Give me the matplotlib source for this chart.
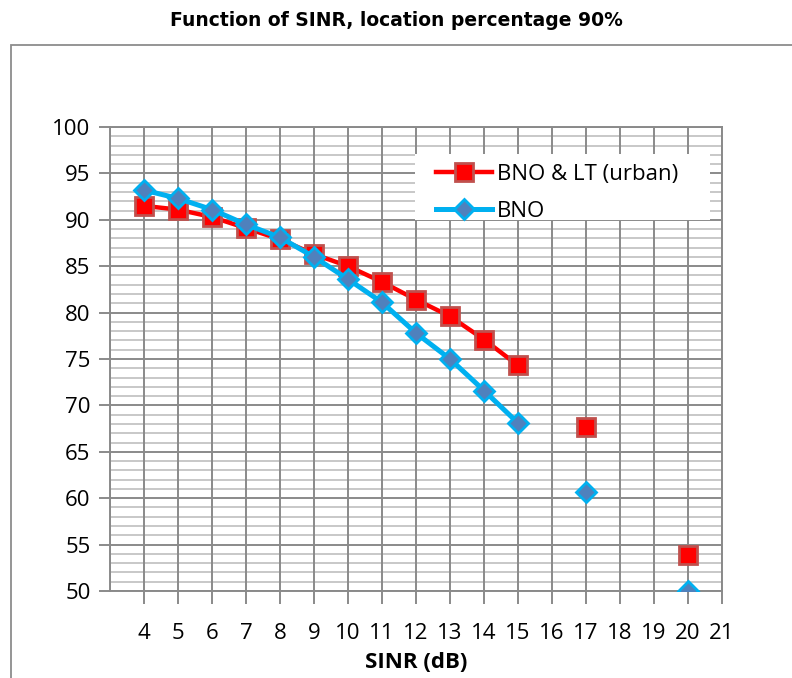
import numpy as np
import matplotlib
matplotlib.use("Agg")
import matplotlib.pyplot as plt
from matplotlib.patches import Rectangle

# data (16, 18, 19 have no values -> line breaks)
sinr = [4, 5, 6, 7, 8, 9, 10, 11, 12, 13, 14, 15, 16, 17, 18, 19, 20]
bno_lt = [91.5, 91.1, 90.3, 89.1, 87.9, 86.3, 85.0, 83.3, 81.4, 79.6, 77.1, 74.3,
          np.nan, 67.7, np.nan, np.nan, 53.9]
bno = [93.2, 92.3, 91.1, 89.5, 88.1, 86.0, 83.6, 81.1, 77.8, 75.0, 71.6, 68.1,
       np.nan, 60.7, np.nan, np.nan, 50.0]

x_ticks = list(range(4, 22))
y_ticks = list(range(50, 101, 5))

plt.rcParams["font.family"] = ["Open Sans", "DejaVu Sans"]

fig = plt.figure(figsize=(7.92, 6.78), dpi=100)
ax = fig.add_axes([110 / 792, 1 - 591 / 678, 612 / 792, 464 / 678])

# outer chart frame (runs off the right and bottom edge)
fig.patches.append(Rectangle((11 / 792, -0.1), 1.0, 1 - 45 / 678 + 0.1,
                             transform=fig.transFigure, fill=False,
                             edgecolor="#8c8c8c", linewidth=1.3))

fig.text(0.5, 1 - 20 / 678, "Function of SINR, location percentage 90%",
         ha="center", va="center", fontsize=13.5, fontweight="bold",
         family=["DejaVu Sans"])

# grid
for v in range(50, 101):
    if v % 5:
        ax.axhline(v, color="#c8c8c8", lw=1.4, zorder=1)
    else:
        ax.axhline(v, color="#8a8a8a", lw=1.4, zorder=1.5)
for v in range(3, 22):
    ax.axvline(v, color="#8a8a8a", lw=1.4, zorder=1.5)

ax.plot(sinr, bno_lt, color="#ff0000", lw=3.2, marker="s", markersize=12.5,
        markerfacecolor="#ff0000", markeredgecolor="#c0504d",
        markeredgewidth=2, label="BNO & LT (urban)", zorder=3)
ax.plot(sinr, bno, color="#00b0f0", lw=3.6, marker="D", markersize=10.5,
        markerfacecolor="#4f81bd", markeredgecolor="#00b0f0",
        markeredgewidth=2, label="BNO", zorder=4)

ax.set_xlim(3, 21)
ax.set_ylim(50, 100)
ax.set_xticks(x_ticks)
ax.set_yticks(y_ticks)
ax.tick_params(axis="both", direction="out", color="#8a8a8a", width=1.4,
               labelsize=16)
ax.tick_params(axis="x", length=9, pad=14)
ax.tick_params(axis="y", length=8, pad=6)
for s in ax.spines.values():
    s.set_color("#8a8a8a")
    s.set_linewidth(1.4)

ax.set_xlabel("SINR (dB)", fontsize=16, fontweight="bold", labelpad=6)

# white legend box, then the legend entries on top of it
ax.add_patch(Rectangle(((415 - 110) / 612, (591 - 220) / 464), 295 / 612, 66 / 464,
                       transform=ax.transAxes, facecolor="white",
                       edgecolor="none", zorder=5))
leg = ax.legend(loc="upper left", bbox_to_anchor=((436 - 110) / 612, (591 - 164) / 464),
                frameon=False, fontsize=16, handlelength=2.5, borderpad=0,
                labelspacing=0.7, handletextpad=0.25, borderaxespad=0)
leg.set_zorder(6)

fig.savefig("out.png", dpi=100)
